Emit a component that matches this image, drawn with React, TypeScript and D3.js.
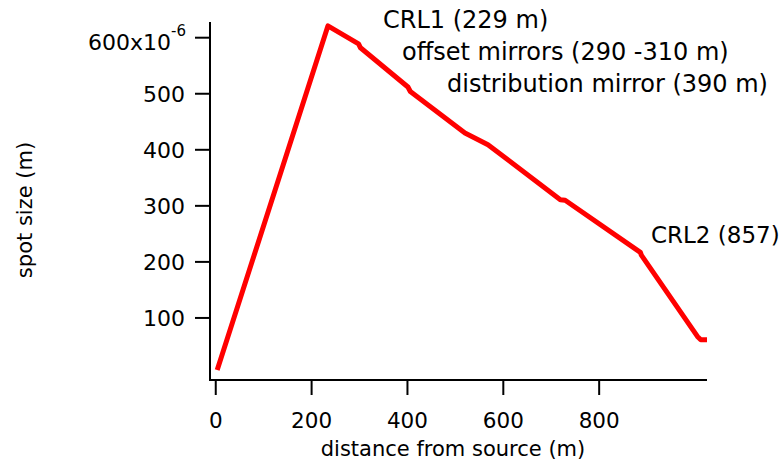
import React from "react";
import * as d3 from "d3";

const distance = [3, 234, 298, 302, 401, 406, 520, 568, 719, 729, 886, 888, 1005, 1012, 1025];
const spotSizeMicro = [7, 621, 589, 582, 512, 504, 430, 409, 311, 310, 217, 212, 67, 61, 61];
const xTicks = [0, 200, 400, 600, 800];
const yTicks = [100, 200, 300, 400, 500, 600];
const annotations = [
  { text: "CRL1 (229 m)" },
  { text: "offset mirrors (290 -310 m)" },
  { text: "distribution mirror (390 m)" },
  { text: "CRL2 (857)" },
];
const annotationPos = [
  [383, 28, 24],
  [402, 60, 24],
  [447, 92, 24],
  [651, 243, 23],
];

const W = 782;
const H = 464;
const FONT = "DejaVu Sans";

export default function App() {
  const x = d3.scaleLinear().domain([-12, 1025]).range([210, 707]);
  const y = d3.scaleLinear().domain([-10.7, 628]).range([380, 22]);
  const data = distance.map((d, i) => [d, spotSizeMicro[i]] as [number, number]);
  const line = d3
    .line<[number, number]>()
    .x((d) => x(d[0]))
    .y((d) => y(d[1]));

  return (
    <svg
      width={W}
      height={H}
      style={{ position: "absolute", left: 0, top: 0, background: "#fff" }}
      fontFamily={FONT}
    >
      {/* axes */}
      <line x1={x(-12)} x2={x(-12)} y1={y(628)} y2={y(-10.7)} stroke="#000" strokeWidth={2} />
      <line x1={x(-12) - 1} x2={x(1025)} y1={y(-10.7)} y2={y(-10.7)} stroke="#000" strokeWidth={2} />
      {yTicks.map((t) => (
        <g key={"y" + t}>
          <line x1={x(-12) - 15} x2={x(-12)} y1={y(t)} y2={y(t)} stroke="#000" strokeWidth={2} />
          {t === 600 ? (
            <text x={x(-12) - 24} y={y(t) + 12} fontSize={22} textAnchor="end">
              {"600x10"}
              <tspan fontSize={15} dy={-14}>
                {"-6"}
              </tspan>
            </text>
          ) : (
            <text x={x(-12) - 25} y={y(t) + 8} fontSize={22} textAnchor="end">
              {t}
            </text>
          )}
        </g>
      ))}
      {xTicks.map((t) => (
        <g key={"x" + t}>
          <line x1={x(t)} x2={x(t)} y1={y(-10.7)} y2={y(-10.7) + 15} stroke="#000" strokeWidth={2} />
          <text x={x(t)} y={428} fontSize={21.5} textAnchor="middle">
            {t}
          </text>
        </g>
      ))}
      <text x={453} y={456} fontSize={21} textAnchor="middle">
        distance from source (m)
      </text>
      <text
        transform={`translate(32,210) rotate(-90)`}
        fontSize={21}
        textAnchor="middle"
      >
        spot size (m)
      </text>
      <path d={line(data) || ""} fill="none" stroke="#ff0000" strokeWidth={5} strokeLinejoin="round" />
      {annotations.map((a, i) => (
        <text
          key={a.text}
          x={annotationPos[i][0]}
          y={annotationPos[i][1]}
          fontSize={annotationPos[i][2]}
        >
          {a.text}
        </text>
      ))}
    </svg>
  );
}
